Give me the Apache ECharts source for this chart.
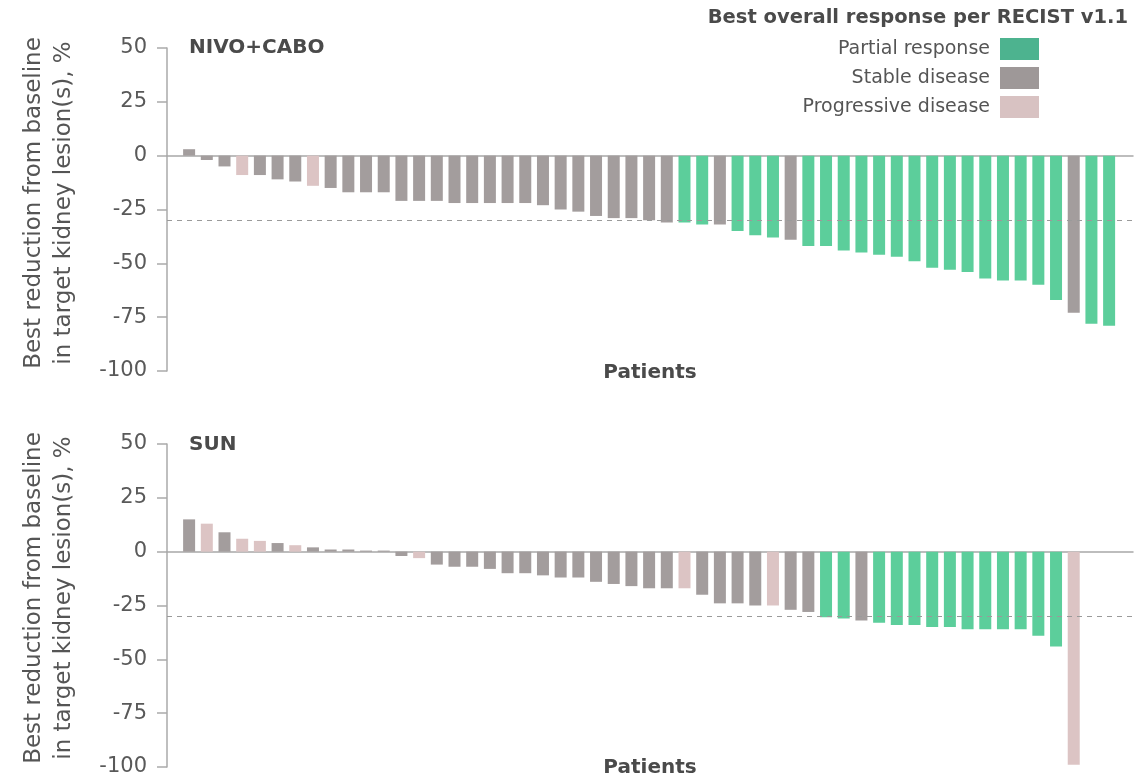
<!DOCTYPE html>
<html>
<head>
<meta charset="utf-8">
<script src="https://cdn.jsdelivr.net/npm/echarts@6/dist/echarts.min.js"></script>
<style>
html,body{margin:0;padding:0;background:#fff;}
#chart{width:1137px;height:780px;}
</style>
</head>
<body>
<div id="chart"></div>
<script>
// ---- data ----
const yTicks = [50, 25, 0, -25, -50, -75, -100];
const responseLabels = { PR: 'Partial response', SD: 'Stable disease', PD: 'Progressive disease' };

const nivoCaboChange = [3,-2,-5,-9,-9,-11,-12,-14,-15,-17,
  -17,-17,-21,-21,-21,-22,-22,-22,-22,-22,
  -23,-25,-26,-28,-29,-29,-30,-31,-31,-32,
  -32,-35,-37,-38,-39,-42,-42,-44,-45,-46,
  -47,-49,-52,-53,-54,-57,-58,-58,-60,-67,
  -73,-78,-79];
const nivoCaboResp = ['SD','SD','SD','PD','SD','SD','SD','PD','SD','SD',
  'SD','SD','SD','SD','SD','SD','SD','SD','SD','SD',
  'SD','SD','SD','SD','SD','SD','SD','SD','PR','PR',
  'SD','PR','PR','PR','SD','PR','PR','PR','PR','PR',
  'PR','PR','PR','PR','PR','PR','PR','PR','PR','PR',
  'SD','PR','PR'];

const sunChange = [15,13,9,6,5,4,3,2,1,1,
  0.5,0.5,-2,-3,-6,-7,-7,-8,-10,-10,
  -11,-12,-12,-14,-15,-16,-17,-17,-17,-20,
  -24,-24,-25,-25,-27,-28,-30.5,-31,-32,-33,
  -34,-34,-35,-35,-36,-36,-36,-36,-39,-44,
  -99];
const sunResp = ['SD','PD','SD','PD','PD','SD','PD','SD','SD','SD',
  'SD','SD','SD','PD','SD','SD','SD','SD','SD','SD',
  'SD','SD','SD','SD','SD','SD','SD','SD','PD','SD',
  'SD','SD','SD','PD','SD','SD','PR','PR','SD','PR',
  'PR','PR','PR','PR','PR','PR','PR','PR','PR','PR',
  'PD'];

const responseThreshold = -30;

// ---- styles ----
const FONT = '"DejaVu Sans", sans-serif';
const barColors = { PR: '#5CCE9B', SD: '#A39D9D', PD: '#DCC4C4' };
const legendColors = { PR: '#4DB38F', SD: '#9E9898', PD: '#D8C2C2' };
const codes = ['PR', 'SD', 'PD'];

function panelSeries(values, resp, gridIdx) {
  return codes.map((code, k) => {
    const data = [];
    values.forEach((v, i) => { if (resp[i] === code) data.push([i + 1, v]); });
    const s = {
      type: 'bar',
      name: responseLabels[code],
      xAxisIndex: gridIdx,
      yAxisIndex: gridIdx,
      barWidth: 12,
      barGap: '-100%',
      itemStyle: { color: barColors[code] },
      emphasis: { disabled: true },
      data: data
    };
    if (k === 0) {
      s.markLine = {
        silent: true,
        symbol: 'none',
        label: { show: false },
        lineStyle: { type: [5, 5], color: '#9a9a9a', width: 1 },
        data: [{ yAxis: responseThreshold }]
      };
    }
    return s;
  });
}

function xAxisDef(gridIdx) {
  return {
    type: 'value', gridIndex: gridIdx, min: -0.25, max: 54.35,
    axisLine: { show: true, onZero: true, lineStyle: { color: '#a8a8a8', width: 1.5 } },
    axisTick: { show: false }, axisLabel: { show: false }, splitLine: { show: false }
  };
}
function yAxisDef(gridIdx) {
  return {
    type: 'value', gridIndex: gridIdx,
    min: yTicks[yTicks.length - 1], max: yTicks[0], interval: 25,
    axisLine: { show: true, onZero: false, lineStyle: { color: '#aaaaaa', width: 1.5 } },
    axisTick: { show: true, length: 10, lineStyle: { color: '#aaaaaa', width: 1.5 } },
    axisLabel: { color: '#595959', fontSize: 21, fontFamily: FONT, margin: 20 },
    splitLine: { show: false }
  };
}

const yName = 'Best reduction from baseline\nin target kidney lesion(s), %';
function txt(text, x, y, opts) {
  return {
    type: 'text', x: x, y: y, rotation: opts.rotation || 0, silent: true,
    style: Object.assign({
      text: text, fill: '#4a4a4a', fontFamily: FONT, fontSize: 20,
      align: 'left', verticalAlign: 'middle'
    }, opts.style || {})
  };
}

const option = {
  animation: false,
  grid: [
    { left: 167, right: 4, top: 48, height: 323 },
    { left: 167, right: 4, top: 444, height: 323 }
  ],
  xAxis: [xAxisDef(0), xAxisDef(1)],
  yAxis: [yAxisDef(0), yAxisDef(1)],
  legend: {
    orient: 'vertical', right: 98, top: 38, align: 'right', padding: 0,
    itemWidth: 39, itemHeight: 22, itemGap: 7, icon: 'rect',
    selectedMode: false,
    textStyle: { color: '#555555', fontSize: 19, fontFamily: FONT, padding: [0, 5, 0, 0] },
    data: codes.map(c => ({ name: responseLabels[c], itemStyle: { color: legendColors[c] } }))
  },
  graphic: [
    txt('Best overall response per RECIST v1.1', 1128, 18, { style: { align: 'right', fontWeight: 'bold', fontSize: 19.5 } }),
    txt('NIVO+CABO', 189, 48, { style: { fontWeight: 'bold', fontSize: 20 } }),
    txt('SUN', 189, 445, { style: { fontWeight: 'bold', fontSize: 20 } }),
    txt('Patients', 650, 373, { style: { align: 'center', fontWeight: 'bold', fontSize: 20 } }),
    txt('Patients', 650, 768, { style: { align: 'center', fontWeight: 'bold', fontSize: 20 } }),
    txt(yName, 49, 203, { rotation: Math.PI / 2, style: { align: 'center', fontSize: 23, lineHeight: 30, fill: '#555555' } }),
    txt(yName, 49, 598, { rotation: Math.PI / 2, style: { align: 'center', fontSize: 23, lineHeight: 30, fill: '#555555' } })
  ],
  series: panelSeries(nivoCaboChange, nivoCaboResp, 0).concat(panelSeries(sunChange, sunResp, 1))
};

const chart = echarts.init(document.getElementById('chart'), null, { renderer: 'canvas' });
chart.setOption(option);
</script>
</body>
</html>
